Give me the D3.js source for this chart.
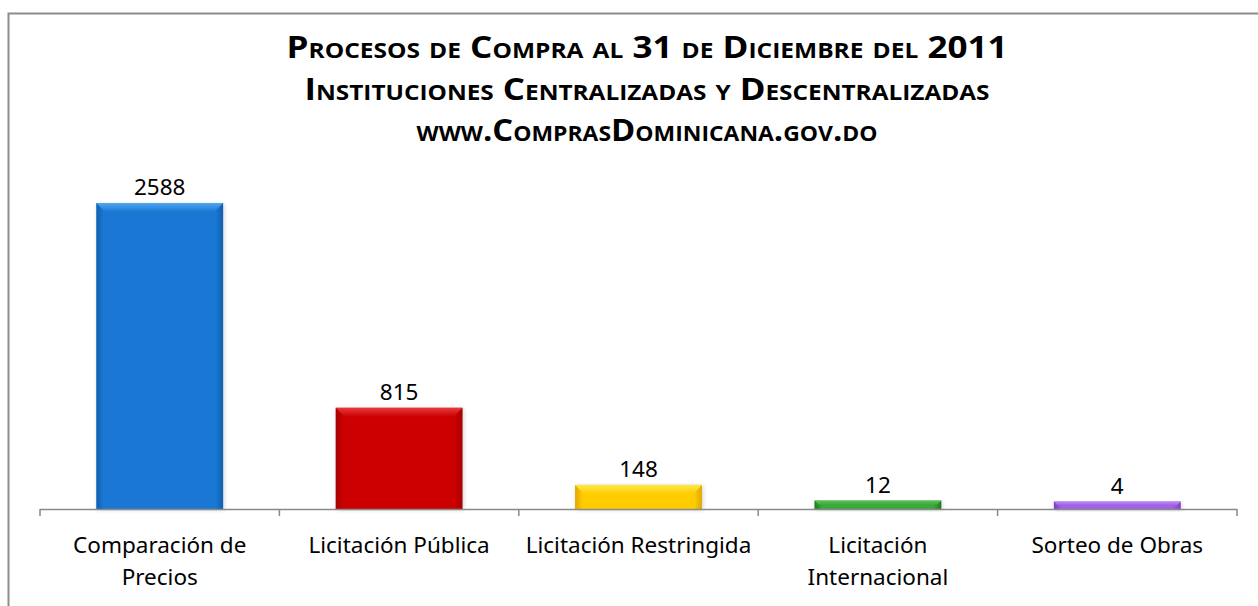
<!DOCTYPE html>
<html>
<head>
<meta charset="utf-8">
<script src="https://cdn.jsdelivr.net/npm/d3@7"></script>
<style>
  body { margin: 0; background: #fff; }
  svg { display: block; }
</style>
</head>
<body>
<svg id="chart" width="1258" height="606"></svg>
<script>
const categories = ["Comparación de Precios", "Licitación Pública", "Licitación Restringida", "Licitación Internacional", "Sorteo de Obras"];
const values = [2588, 815, 148, 12, 4];
const titleLines = [
    "Procesos de Compra al 31 de Diciembre del 2011",
    "Instituciones Centralizadas y Descentralizadas",
    "www.ComprasDominicana.gov.do"
];
const barColors = [
    { main: "#1a78d4", light: "#4fa6f0", dark: "#0f5fae" },
    { main: "#cc0000", light: "#e8393a", dark: "#a30000" },
    { main: "#ffcc00", light: "#ffe84a", dark: "#e0a800" },
    { main: "#3aa83a", light: "#5cc25c", dark: "#1e7a1e" },
    { main: "#a062e6", light: "#c08af2", dark: "#7c40c0" }
];

const svg = d3.select("#chart");
const font = "'Noto Sans', sans-serif";
const axisY = 509;
const bevelBase = 7;   // bevel makes every bar a bit taller than its value

// frame
svg.append("rect")
    .attr("x", 8.5).attr("y", 13.5)
    .attr("width", 1300).attr("height", 700)
    .attr("fill", "#fff")
    .attr("stroke", "#8c8c8c")
    .attr("stroke-width", 2);

// title
const titleY = [58, 100, 141];
const titleLen = [721, 685, 461];
svg.selectAll(".title")
    .data(titleLines)
    .join("text")
    .attr("class", "title")
    .attr("x", 647)
    .attr("y", (d, i) => titleY[i])
    .attr("text-anchor", "middle")
    .attr("font-family", "'Open Sans', sans-serif")
    .attr("font-weight", "bold")
    .attr("font-size", 30)
    .style("font-variant", "small-caps")
    .attr("textLength", (d, i) => titleLen[i])
    .attr("lengthAdjust", "spacingAndGlyphs")
    .attr("fill", "#000")
    .text(d => d);

const x = d3.scaleBand()
    .domain(categories)
    .range([40, 1237])
    .paddingInner(0.47)
    .paddingOuter(0.235);

const y = d3.scaleLinear()
    .domain([0, d3.max(values)])
    .range([axisY - bevelBase, 203]);

const defs = svg.append("defs");
barColors.forEach((c, i) => {
    const g = defs.append("linearGradient")
        .attr("id", "grad" + i)
        .attr("x1", "0").attr("x2", "1").attr("y1", "0").attr("y2", "0");
    g.append("stop").attr("offset", "0%").attr("stop-color", c.dark);
    g.append("stop").attr("offset", "6%").attr("stop-color", c.main);
    g.append("stop").attr("offset", "94%").attr("stop-color", c.main);
    g.append("stop").attr("offset", "100%").attr("stop-color", c.dark);

    const t = defs.append("linearGradient")
        .attr("id", "bevel" + i)
        .attr("x1", "0").attr("x2", "0").attr("y1", "0").attr("y2", "1");
    t.append("stop").attr("offset", "0%").attr("stop-color", c.light);
    t.append("stop").attr("offset", "100%").attr("stop-color", c.main);
});
const shadow = defs.append("filter").attr("id", "shadow")
    .attr("x", "-10%").attr("y", "-10%").attr("width", "120%").attr("height", "130%");
shadow.append("feGaussianBlur").attr("stdDeviation", 2);

const data = categories.map((c, i) => ({ cat: c, value: values[i], i: i }));

const bars = svg.selectAll(".bar")
    .data(data)
    .join("g")
    .attr("class", "bar");

// soft shadow
bars.append("rect")
    .attr("x", d => x(d.cat) + 1)
    .attr("y", d => y(d.value) + 1)
    .attr("width", x.bandwidth())
    .attr("height", d => axisY - y(d.value))
    .attr("fill", "#000")
    .attr("opacity", 0.18)
    .attr("filter", "url(#shadow)");

bars.append("rect")
    .attr("x", d => x(d.cat))
    .attr("y", d => y(d.value))
    .attr("width", x.bandwidth())
    .attr("height", d => axisY - y(d.value))
    .attr("fill", d => `url(#grad${d.i})`);

// top bevel
bars.append("path")
    .attr("fill", d => `url(#bevel${d.i})`)
    .attr("d", d => {
        const x0 = x(d.cat), x1 = x0 + x.bandwidth();
        const top = y(d.value);
        const b = Math.min(9, (axisY - top) / 2);
        return `M${x0},${top}L${x1},${top}L${x1 - b},${top + b}L${x0 + b},${top + b}Z`;
    });

// value labels
svg.selectAll(".value")
    .data(data)
    .join("text")
    .attr("class", "value")
    .attr("x", d => x(d.cat) + x.bandwidth() / 2)
    .attr("y", d => y(d.value) - 8)
    .attr("text-anchor", "middle")
    .attr("font-family", font)
    .attr("font-size", 22.5)
    .attr("fill", "#000")
    .text(d => d.value);

// axis line and ticks at category boundaries
const boundaries = [x.range()[0]].concat(categories.map(c => x(c) + x.bandwidth() + x.step() * x.paddingInner() / 2));
boundaries[boundaries.length - 1] = x.range()[1];
svg.append("line")
    .attr("x1", x.range()[0]).attr("x2", x.range()[1])
    .attr("y1", axisY + 0.5).attr("y2", axisY + 0.5)
    .attr("stroke", "#898989").attr("stroke-width", 1.5);
svg.selectAll(".tick")
    .data(boundaries)
    .join("line")
    .attr("class", "tick")
    .attr("x1", d => d).attr("x2", d => d)
    .attr("y1", axisY).attr("y2", axisY + 7)
    .attr("stroke", "#898989").attr("stroke-width", 1.5);

// category labels, wrapped
const maxLabelWidth = 236;
const labels = svg.selectAll(".cat")
    .data(categories)
    .join("text")
    .attr("class", "cat")
    .attr("x", d => x(d) + x.bandwidth() / 2)
    .attr("y", 553)
    .attr("text-anchor", "middle")
    .attr("font-family", font)
    .attr("font-size", 22.5)
    .attr("fill", "#000");

labels.each(function (d) {
    const text = d3.select(this);
    const cx = text.attr("x");
    const words = d.split(" ");
    let lines = [];
    let line = [];
    let tspan = text.append("tspan").attr("x", cx).attr("dy", 0);
    words.forEach(w => {
        line.push(w);
        tspan.text(line.join(" "));
        if (tspan.node().getComputedTextLength() > maxLabelWidth && line.length > 1) {
            line.pop();
            lines.push(line.join(" "));
            line = [w];
            tspan.text(w);
        }
    });
    lines.push(line.join(" "));
    text.text(null);
    lines.forEach((l, i) => {
        text.append("tspan").attr("x", cx).attr("dy", i === 0 ? 0 : 32).text(l);
    });
});
</script>
</body>
</html>
